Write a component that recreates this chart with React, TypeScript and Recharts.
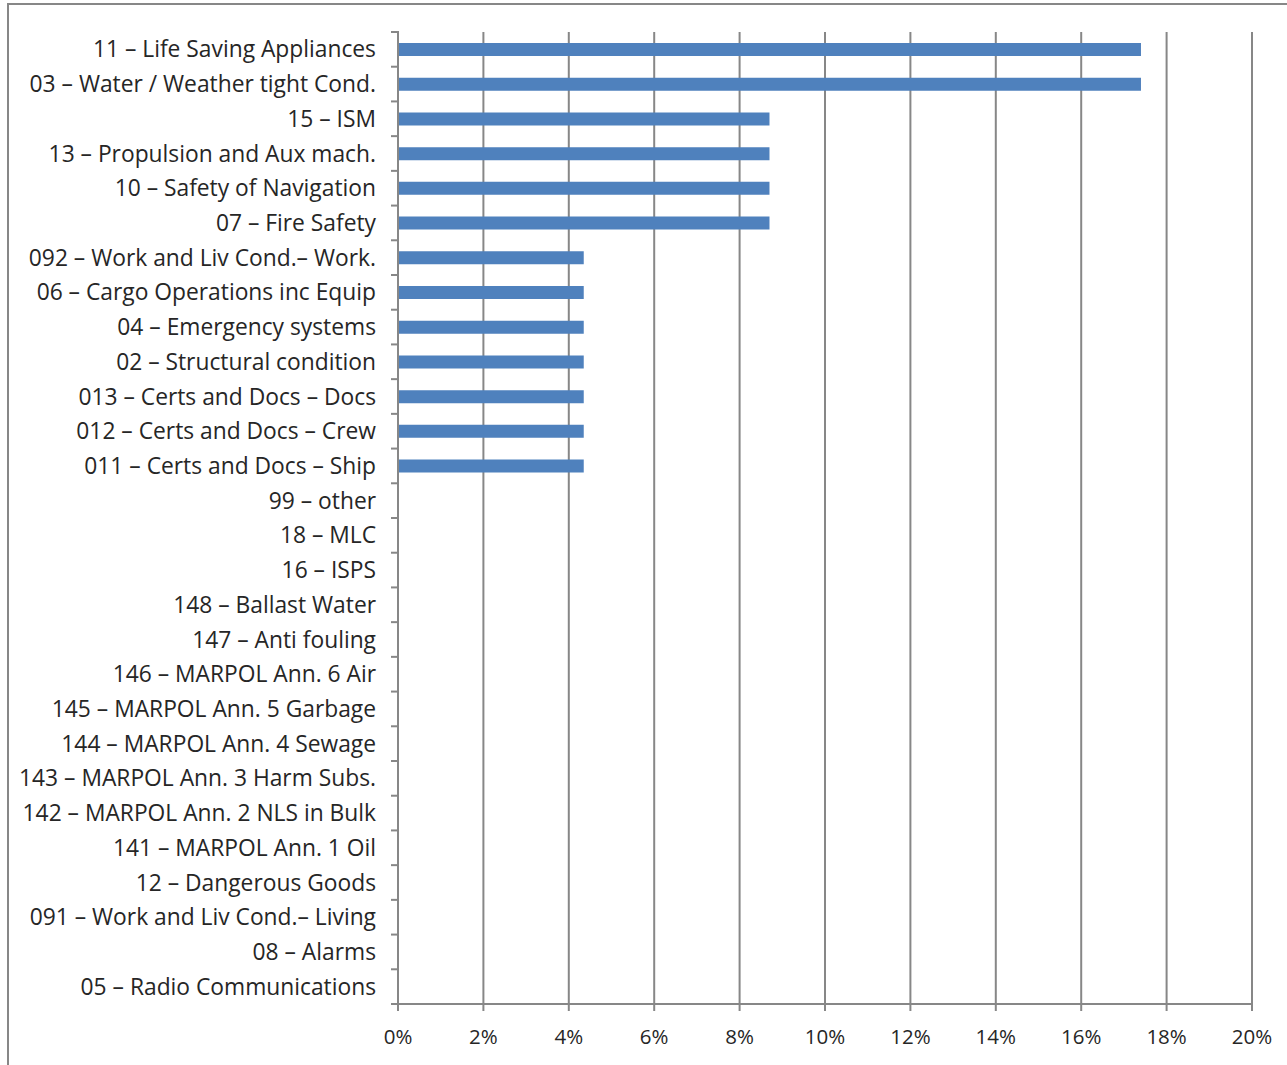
import React from "react"
import { BarChart, Bar, XAxis, YAxis, CartesianGrid } from "recharts"

const categories = [
  "11 – Life Saving Appliances",
  "03 – Water / Weather tight Cond.",
  "15 – ISM",
  "13 – Propulsion and Aux mach.",
  "10 – Safety of Navigation",
  "07 – Fire Safety",
  "092 – Work and Liv Cond.– Work.",
  "06 – Cargo Operations inc Equip",
  "04 – Emergency systems",
  "02 – Structural condition",
  "013 – Certs and Docs – Docs",
  "012 – Certs and Docs – Crew",
  "011 – Certs and Docs – Ship",
  "99 – other",
  "18 – MLC",
  "16 – ISPS",
  "148 – Ballast Water",
  "147 – Anti fouling",
  "146 – MARPOL Ann. 6 Air",
  "145 – MARPOL Ann. 5 Garbage",
  "144 – MARPOL Ann. 4 Sewage",
  "143 – MARPOL Ann. 3 Harm Subs.",
  "142 – MARPOL Ann. 2 NLS in Bulk",
  "141 – MARPOL Ann. 1 Oil",
  "12 – Dangerous Goods",
  "091 – Work and Liv Cond.– Living",
  "08 – Alarms",
  "05 – Radio Communications",
]

const shares = [
  17.4, 17.4, 8.7, 8.7, 8.7, 8.7, 4.35, 4.35, 4.35, 4.35, 4.35, 4.35, 4.35,
  0, 0, 0, 0, 0, 0, 0, 0, 0, 0, 0, 0, 0, 0, 0,
]

const xTicks = [0, 2, 4, 6, 8, 10, 12, 14, 16, 18, 20]

const data = categories.map((name, i) => ({ name, value: shares[i] }))

const GRAY = "#878787"
const TEXT = "#262626"
const FONT = "'Open Sans', sans-serif"

const CategoryTick = (props: any) => {
  const { x, y, payload, index } = props
  const half = 972 / categories.length / 2
  const axisX = x + 9
  return (
    <g>
      <line x1={axisX - 8} x2={axisX} y1={y - half} y2={y - half} stroke={GRAY} strokeWidth={2} />
      {index === categories.length - 1 && (
        <line x1={axisX - 8} x2={axisX} y1={y + half} y2={y + half} stroke={GRAY} strokeWidth={2} />
      )}
      <text x={x - 14} y={y} dy={8} textAnchor="end" fill={TEXT} fontSize={22.8} fontFamily={FONT}>
        {payload.value}
      </text>
    </g>
  )
}

export default function App() {
  return (
    <div
      style={{
        position: "absolute",
        left: 7,
        top: 3,
        width: 1280,
        height: 1062,
        borderTop: `2px solid ${GRAY}`,
        borderLeft: `2px solid ${GRAY}`,
        background: "#fff",
      }}
    >
      <BarChart
        layout="vertical"
        width={1278}
        height={1060}
        data={data}
        margin={{ top: 27, right: 35, bottom: 21, left: 0 }}
        barCategoryGap={0}
      >
        <CartesianGrid horizontal={false} stroke={GRAY} strokeWidth={2} verticalValues={xTicks} />
        <XAxis
          type="number"
          domain={[0, 20]}
          ticks={xTicks}
          tickFormatter={(v) => `${v}%`}
          stroke={GRAY}
          strokeWidth={2}
          tickSize={7}
          tickMargin={18}
          height={40}
          tick={{ fill: TEXT, fontSize: 20.5, fontFamily: FONT }}
          interval={0}
        />
        <YAxis
          type="category"
          dataKey="name"
          width={389}
          stroke={GRAY}
          strokeWidth={2}
          tickLine={false}
          tick={<CategoryTick />}
          interval={0}
        />
        <Bar dataKey="value" fill="#4F81BD" barSize={13} isAnimationActive={false} />
      </BarChart>
    </div>
  )
}
